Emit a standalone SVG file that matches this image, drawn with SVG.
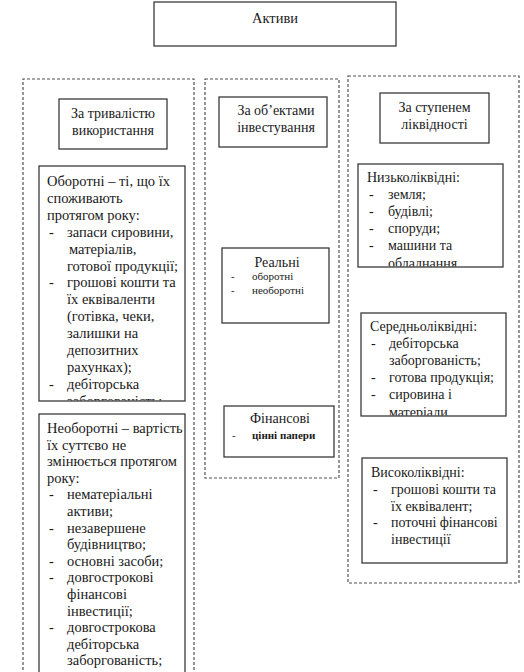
<svg xmlns="http://www.w3.org/2000/svg" width="524" height="672" viewBox="0 0 524 672" font-family="'Liberation Serif', 'Times New Roman', 'DejaVu Serif', serif">
<style>
  .box{fill:#fff;stroke:#3a3a3a;stroke-width:1.3}
  .dash{fill:none;stroke:#505050;stroke-width:1.2;stroke-dasharray:3 2}
  text{fill:#1a1a1a}
  .t{font-size:14.5px}
  .h{font-size:14px;text-anchor:middle}
  .r{font-size:14px}
  .s{font-size:11px}
  .c{text-anchor:middle}
</style>
<defs>
  <clipPath id="clipOb"><rect x="39" y="166" width="146" height="234.5"/></clipPath>
  <clipPath id="clipNe"><rect x="39" y="414" width="146" height="258"/></clipPath>
  <clipPath id="clipLow"><rect x="358" y="164" width="145" height="102.5"/></clipPath>
  <clipPath id="clipMid"><rect x="361" y="313" width="145" height="102.5"/></clipPath>
</defs>
<rect width="524" height="672" fill="#fff"/>

<g id="connectors">
  <path class="dash" d="M23,680 V79 H194 V680"/>
  <rect class="dash" x="205" y="79" width="134" height="399"/>
  <rect class="dash" x="348" y="76" width="171" height="507"/>
</g>

<g id="aktyvy">
  <rect class="box" x="154" y="2" width="242" height="44"/>
  <text class="t c" x="275" y="23">Активи</text>
</g>

<g id="za-tryvalistiu">
  <rect class="box" x="59" y="99" width="108" height="50"/>
  <text class="h" x="113" y="118">За тривалістю</text>
  <text class="h" x="113" y="135">використання</text>
</g>

<g id="oborotni">
  <rect class="box" x="39" y="166" width="146" height="235"/>
  <g clip-path="url(#clipOb)" class="t">
    <text x="47" y="186">Оборотні – ті, що їх</text>
    <text x="47" y="202.9">споживають</text>
    <text x="47" y="219.8">протягом року:</text>
    <text x="49" y="236.7">-</text><text x="67" y="236.7">запаси сировини,</text>
    <text x="69" y="253.6">матеріалів,</text>
    <text x="67" y="270.5">готової продукції;</text>
    <text x="49" y="287.4">-</text><text x="67" y="287.4">грошові кошти та</text>
    <text x="67" y="304.3">їх еквіваленти</text>
    <text x="67" y="321.2">(готівка, чеки,</text>
    <text x="67" y="338.1">залишки на</text>
    <text x="67" y="355">депозитних</text>
    <text x="67" y="371.9">рахунках);</text>
    <text x="49" y="388.8">-</text><text x="67" y="388.8">дебіторська</text>
    <text x="67" y="405.7">заборгованість;</text>
  </g>
</g>

<g id="neoborotni">
  <rect class="box" x="39" y="414" width="146" height="270"/>
  <g clip-path="url(#clipNe)" class="t">
    <text x="47" y="433">Необоротні – вартість</text>
    <text x="47" y="449.6">їх суттєво не</text>
    <text x="47" y="466.2">змінюється протягом</text>
    <text x="47" y="482.8">року:</text>
    <text x="49" y="499.4">-</text><text x="67" y="499.4">нематеріальні</text>
    <text x="67" y="516">активи;</text>
    <text x="49" y="532.6">-</text><text x="67" y="532.6">незавершене</text>
    <text x="67" y="549.2">будівництво;</text>
    <text x="49" y="565.8">-</text><text x="67" y="565.8">основні засоби;</text>
    <text x="49" y="582.4">-</text><text x="67" y="582.4">довгострокові</text>
    <text x="67" y="599">фінансові</text>
    <text x="67" y="615.6">інвестиції;</text>
    <text x="49" y="632.2">-</text><text x="67" y="632.2">довгострокова</text>
    <text x="67" y="648.8">дебіторська</text>
    <text x="67" y="665.4">заборгованість;</text>
  </g>
</g>

<g id="za-obiektamy">
  <rect class="box" x="219" y="97" width="108" height="50"/>
  <text class="h" x="276" y="115">За об’ектами</text>
  <text class="h" x="276" y="132">інвестування</text>
</g>

<g id="realni">
  <rect class="box" x="222" y="248" width="107" height="75"/>
  <text class="r c" x="277" y="267">Реальні</text>
  <text class="s" x="231" y="280">-</text><text class="s" x="252" y="280">оборотні</text>
  <text class="s" x="231" y="294">-</text><text class="s" x="252" y="294">необоротні</text>
</g>

<g id="finansovi">
  <rect class="box" x="224" y="406" width="110" height="51"/>
  <text class="r c" x="280" y="423">Фінансові</text>
  <text class="s" x="232" y="439">-</text><text class="s" x="252" y="439" font-weight="bold">цінні папери</text>
</g>

<g id="za-stupenem">
  <rect class="box" x="380" y="93" width="109" height="50"/>
  <text class="h" x="434.5" y="112">За ступенем</text>
  <text class="h" x="434.5" y="129">ліквідності</text>
</g>

<g id="nyzkolikvidni">
  <rect class="box" x="358" y="164" width="145" height="103"/>
  <g clip-path="url(#clipLow)" class="r">
    <text x="367" y="182">Низьколіквідні:</text>
    <text x="369" y="199">-</text><text x="388" y="199">земля;</text>
    <text x="369" y="216">-</text><text x="388" y="216">будівлі;</text>
    <text x="369" y="233">-</text><text x="388" y="233">споруди;</text>
    <text x="369" y="250">-</text><text x="388" y="250">машини та</text>
    <text x="388" y="267.5">обладнання</text>
  </g>
</g>

<g id="serednolikvidni">
  <rect class="box" x="361" y="313" width="145" height="103"/>
  <g clip-path="url(#clipMid)" class="r">
    <text x="370" y="331">Середньоліквідні:</text>
    <text x="371" y="348">-</text><text x="389" y="348">дебіторська</text>
    <text x="389" y="365">заборгованість;</text>
    <text x="371" y="382">-</text><text x="389" y="382">готова продукція;</text>
    <text x="371" y="399">-</text><text x="389" y="399">сировина і</text>
    <text x="389" y="416.5">матеріали</text>
  </g>
</g>

<g id="vysokolikvidni">
  <rect class="box" x="362" y="458" width="145" height="105"/>
  <g class="r">
    <text x="371" y="477">Високоліквідні:</text>
    <text x="373" y="494">-</text><text x="391" y="494">грошові кошти та</text>
    <text x="391" y="510.5">їх еквівалент;</text>
    <text x="373" y="527">-</text><text x="391" y="527">поточні фінансові</text>
    <text x="391" y="543.5">інвестиції</text>
  </g>
</g>
</svg>
